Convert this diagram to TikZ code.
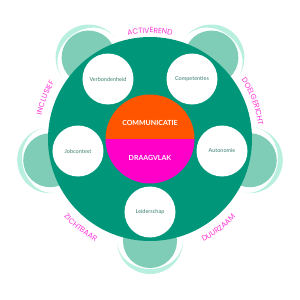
\documentclass[tikz,border=0pt]{standalone}
\usepackage{fontspec}
\usepackage{tikz}
\usetikzlibrary{decorations.text}
\newfontfamily\labelfont{Poppins}
\newfontfamily\latofont{Lato}
\definecolor{tablegreen}{HTML}{00967A}
\definecolor{seatmint}{HTML}{7FCDB6}
\definecolor{backmint}{HTML}{B8EFDE}
\definecolor{commorange}{HTML}{FF5500}
\definecolor{basemagenta}{HTML}{FF00C8}
\definecolor{labelpink}{HTML}{FF33D6}
\definecolor{membertext}{HTML}{3B7F70}

\tikzset{
    chair/.pic={
        % backrest (crescent) and seat, facing the table along -x
        \fill[backmint] (0,33) arc[start angle=90, end angle=-90, radius=33]
            arc[start angle=-90, end angle=90, x radius=28, y radius=33] -- cycle;
        \fill[seatmint] (0,0) circle[radius=27];
    }
}

\begin{document}
\begin{tikzpicture}[
    x=1pt, y=1pt,
    table_circle/.style={
        circle,
        fill=tablegreen,
        minimum size=204pt,
        inner sep=0pt
    },
    member/.style={
        circle,
        fill=white,
        minimum size=51pt,
        inner sep=0pt,
        align=center,
        font=\latofont\fontsize{5.5}{6}\selectfont,
        text=membertext
    },
    core_label/.style={
        font=\latofont\bfseries\fontsize{7}{8}\selectfont,
        text=white
    },
    value_label/.style={
        decorate,
        decoration={
            text along path,
            text align=center,
            text color=labelpink
        }
    }
]
\useasboundingbox (-150,-161) rectangle (150,139);

% Chairs around the table
\pic[rotate=127] (chairtl) at (127:102) {chair};
\pic[rotate=53] (chairtr) at (53:102) {chair};
\pic[rotate=192] (chairl) at (192:102) {chair};
\pic[rotate=348] (chairr) at (348:102) {chair};
\pic[rotate=270] (chairb) at (270:102) {chair};

% Table
\node[table_circle] (table) at (0,0) {};

% Members
\node[member] (verbonden) at (-42,60) {Verbondenheid};
\node[member] (competent) at (42,60) {Competenties};
\node[member] (jobcontext) at (-72,-12) {Jobcontext};
\node[member] (autonomie) at (72,-12) {Autonomie};
\node[member] (leider) at (0,-73) {Leiderschap};

% Core: two halves
\fill[commorange] (-44.5,0) arc[start angle=180, end angle=0, radius=44.5] -- cycle;
\fill[basemagenta] (-44.5,0) arc[start angle=180, end angle=360, radius=44.5] -- cycle;
\node[core_label] (communicatie) at (0,16) {COMMUNICATIE};
\node[core_label] (draagvlak) at (0,-19) {DRAAGVLAK};

% Values along the rim
\path[value_label, decoration={text={|\labelfont\fontsize{7.5}{8}\selectfont|ACTIVEREND}}]
    (125:106) arc[start angle=125, end angle=55, radius=106];
\path[value_label, decoration={text={|\labelfont\fontsize{7.5}{8}\selectfont|DOELGERICHT}}]
    (57:109) arc[start angle=57, end angle=-17, radius=109];
\path[value_label, decoration={text={|\labelfont\fontsize{7.5}{8}\selectfont|INCLUSIEF}}]
    (195:111) arc[start angle=195, end angle=122, radius=111];
\path[value_label, decoration={text={|\labelfont\fontsize{7.5}{8}\selectfont|ZICHTBAAR}}]
    (-165:116) arc[start angle=-165, end angle=-91, radius=116];
\path[value_label, decoration={text={|\labelfont\fontsize{7.5}{8}\selectfont|DUURZAAM}}]
    (-89:116) arc[start angle=-89, end angle=-16, radius=116];

\end{tikzpicture}
\end{document}
